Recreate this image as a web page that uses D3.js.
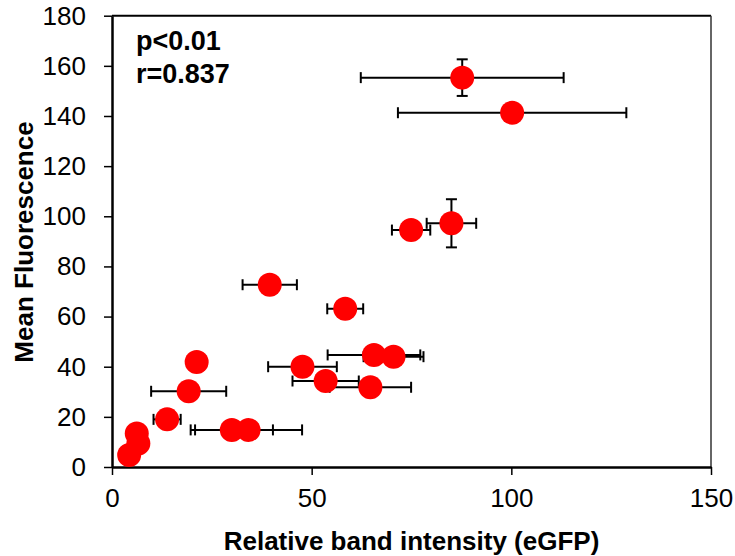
<!DOCTYPE html>
<html><head><meta charset="utf-8">
<script src="https://cdn.jsdelivr.net/npm/d3@7"></script>
<style>body{margin:0;background:#fff;} svg{display:block;font-family:"Liberation Sans",Arial,Helvetica,sans-serif;}</style>
</head><body>
<svg id="chart" width="735" height="556"></svg>
<script>
const xVals = [87.7, 100.2, 85.0, 74.9, 39.5, 58.4, 65.6, 70.5, 47.7, 53.5, 64.7, 21.2, 19.2, 13.8, 30.0, 34.2, 6.2, 6.6, 4.3];
const yVals = [155.3, 141.3, 97.2, 94.5, 72.7, 63.1, 44.7, 44.0, 40.0, 34.3, 31.8, 41.9, 30.2, 19.0, 14.8, 14.8, 13.4, 9.4, 4.8];
const xErr  = [25.4, 28.6, 6.2, 4.8, 6.8, 4.5, 11.6, 7.5, 8.6, 8.3, 10.2, 0, 9.4, 3.4, 10.3, 13.4, 0, 0, 0];
const yErr  = [7.3, 0, 9.6, 0, 0, 0, 0, 0, 0, 0, 0, 0, 0, 0, 0, 0, 0, 0, 0];
const xTicks = [0, 50, 100, 150];
const yTicks = [0, 20, 40, 60, 80, 100, 120, 140, 160, 180];
const statLines = ["p<0.01", "r=0.837"];
const xTitle = "Relative band intensity (eGFP)";
const yTitle = "Mean Fluorescence";

const svg = d3.select("#chart");
const L = 112, R = 711, T = 15.7, B = 467;
const x = d3.scaleLinear().domain([0, 150]).range([L, R]);
const y = d3.scaleLinear().domain([0, 180]).range([B, T]);

// frame top/right
svg.append("line").attr("x1", L).attr("x2", R).attr("y1", T).attr("y2", T).attr("stroke", "#000").attr("stroke-width", 2);
svg.append("line").attr("x1", R).attr("x2", R).attr("y1", T).attr("y2", B).attr("stroke", "#333").attr("stroke-width", 1.5);

const xAxis = svg.append("g").attr("transform", `translate(0,${B})`)
  .call(d3.axisBottom(x).tickValues(xTicks).tickSize(8).tickPadding(14).tickSizeOuter(0));
const yAxis = svg.append("g").attr("transform", `translate(${L},0)`)
  .call(d3.axisLeft(y).tickValues(yTicks).tickSize(8).tickPadding(18).tickSizeOuter(0));
[xAxis, yAxis].forEach(g => {
  g.select(".domain").attr("stroke", "#000").attr("stroke-width", 2.5);
  g.selectAll(".tick line").attr("stroke", "#000").attr("stroke-width", 1.5);
  g.selectAll(".tick text").attr("fill", "#000").style("font-size", "26px").style("font-family", "Liberation Sans, Arial, sans-serif");
});

// error bars
const data = xVals.map((v, i) => ({x: v, y: yVals[i], xe: xErr[i], ye: yErr[i]}));
const eg = svg.append("g").attr("stroke", "#000").attr("stroke-width", 2).attr("fill", "none");
const cap = 5.5;
data.forEach(d => {
  if (d.xe > 0) {
    const x1 = x(d.x - d.xe), x2 = x(d.x + d.xe), yy = y(d.y);
    eg.append("line").attr("x1", x1).attr("x2", x2).attr("y1", yy).attr("y2", yy);
    eg.append("line").attr("x1", x1).attr("x2", x1).attr("y1", yy - cap).attr("y2", yy + cap);
    eg.append("line").attr("x1", x2).attr("x2", x2).attr("y1", yy - cap).attr("y2", yy + cap);
  }
  if (d.ye > 0) {
    const y1 = y(d.y - d.ye), y2 = y(d.y + d.ye), xx = x(d.x);
    eg.append("line").attr("x1", xx).attr("x2", xx).attr("y1", y1).attr("y2", y2);
    eg.append("line").attr("x1", xx - cap).attr("x2", xx + cap).attr("y1", y1).attr("y2", y1);
    eg.append("line").attr("x1", xx - cap).attr("x2", xx + cap).attr("y1", y2).attr("y2", y2);
  }
});

svg.append("g").selectAll("circle").data(data).join("circle")
  .attr("cx", d => x(d.x)).attr("cy", d => y(d.y)).attr("r", 12).attr("fill", "#ff0000");

// stats text
svg.append("g").selectAll("text").data(statLines).join("text")
  .attr("x", 136).attr("y", (d, i) => 50 + i * 33.3)
  .style("font-size", "27px").style("font-weight", "bold").text(d => d);

// axis titles
svg.append("text").attr("x", (L + R) / 2).attr("y", 550).attr("text-anchor", "middle")
  .style("font-size", "26px").style("font-weight", "bold").text(xTitle);
svg.append("text").attr("transform", `translate(33,242) rotate(-90)`).attr("text-anchor", "middle")
  .style("font-size", "26px").style("font-weight", "bold").text(yTitle);
</script>
</body></html>
